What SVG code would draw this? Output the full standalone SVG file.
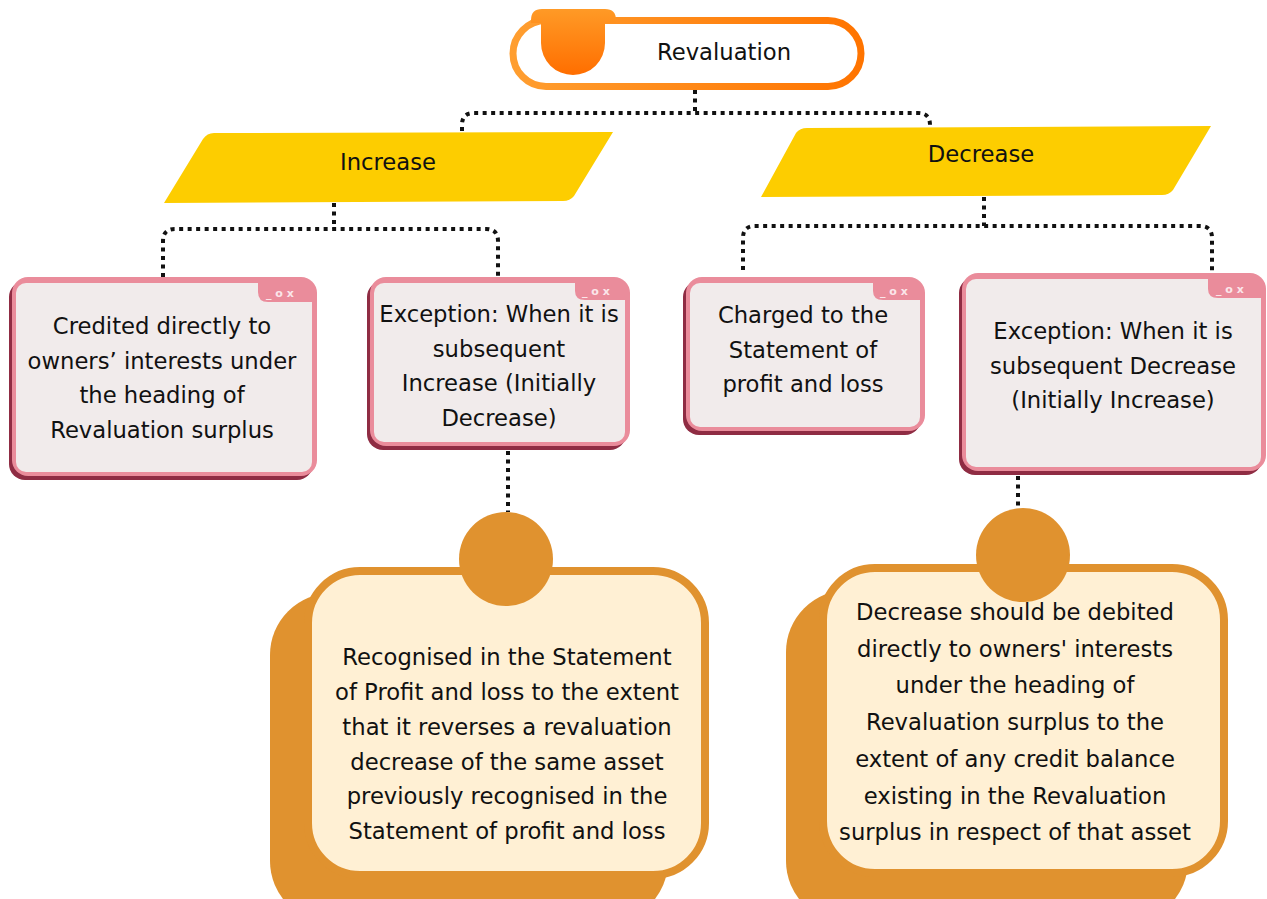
<svg xmlns="http://www.w3.org/2000/svg" width="1267" height="899" viewBox="0 0 1267 899">
<defs>
<linearGradient id="pillStroke" x1="0" y1="0" x2="1" y2="0">
<stop offset="0" stop-color="#ff9e30"/><stop offset="1" stop-color="#ff7400"/>
</linearGradient>
<linearGradient id="tabFill" x1="0" y1="0" x2="0" y2="1">
<stop offset="0" stop-color="#ff9a26"/><stop offset="1" stop-color="#ff6e00"/>
</linearGradient>
<style>
.t{font-family:"DejaVu Sans","Open Sans",sans-serif;font-size:22.7px;fill:#111;text-anchor:middle}
.big{font-size:22.7px}
.dot{fill:none;stroke:#111;stroke-width:4;stroke-dasharray:4 4.5}
.sh{fill:#8f2c43}
.pk{fill:#ea8c9b}
.in{fill:#f1ebeb}
.ic{font-family:"DejaVu Sans",sans-serif;font-size:11px;font-weight:bold;fill:#fbe6ea}
.yl{fill:#fdcd00}
.or{fill:#e0922f}
.cr{fill:#fff0d4;stroke:#e0922f;stroke-width:8}
</style>
</defs>

<g id="connectors">
<path class="dot" d="M695,90 V113"/>
<path class="dot" d="M462,131 V125 Q462,113 474,113 H918 Q930,113 930,125 V128"/>
<path class="dot" d="M334,203 V229"/>
<path class="dot" d="M163,277 V241 Q163,229 175,229 H486 Q498,229 498,241 V277"/>
<path class="dot" d="M984,197 V226"/>
<path class="dot" d="M743,270 V238 Q743,226 755,226 H1200 Q1212,226 1212,238 V273"/>
<path class="dot" d="M508,451 V512"/>
<path class="dot" d="M1018,476 V510"/>
</g>

<g id="revaluation">
<rect x="513" y="20.5" width="348" height="66" rx="33" fill="#fff" stroke="url(#pillStroke)" stroke-width="7"/>
<path d="M531,20 Q531,9 542,9 H605 Q616,9 616,20 V23 H605 V43 A32,32 0 0 1 541,43 V23 H531 Z" fill="url(#tabFill)"/>
<text class="t big" x="724" y="60">Revaluation</text>
</g>

<g id="increase">
<path class="yl" d="M164,203 L203,139 Q207,133 214,133 L613,132 L574,196 Q570,201 563,201 Z"/>
<text class="t" x="388" y="170">Increase</text>
</g>

<g id="decrease">
<path class="yl" d="M761,197 L796,133 Q800,128 807,128 L1211,126 L1173,190 Q1169,195 1162,195 Z"/>
<text class="t" x="981" y="162">Decrease</text>
</g>

<g id="credited">
<rect class="sh" x="9" y="281" width="304" height="199" rx="16"/>
<rect class="pk" x="12" y="277" width="305" height="199" rx="16"/>
<rect class="in" x="16" y="283" width="296" height="189" rx="10"/>
<path class="pk" d="M258,283 H312 V302 H268 Q258,302 258,292 Z"/>
<text class="ic" x="266" y="297">_ o x</text>
<text class="t" x="162" y="334">Credited directly to</text>
<text class="t" x="162" y="368.5">owners’ interests under</text>
<text class="t" x="162" y="403">the heading of</text>
<text class="t" x="162" y="437.5">Revaluation surplus</text>
</g>

<g id="exception-increase">
<rect class="sh" x="367" y="281" width="259" height="169" rx="16"/>
<rect class="pk" x="370" y="277" width="260" height="169" rx="16"/>
<rect class="in" x="374" y="283" width="251" height="159" rx="10"/>
<path class="pk" d="M575,283 H625 V300 H585 Q575,300 575,291 Z"/>
<text class="ic" x="582" y="295">_ o x</text>
<text class="t" x="499" y="322">Exception: When it is</text>
<text class="t" x="499" y="356.5">subsequent</text>
<text class="t" x="499" y="391">Increase (Initially</text>
<text class="t" x="499" y="425.5">Decrease)</text>
</g>

<g id="charged">
<rect class="sh" x="683" y="281" width="238" height="154" rx="16"/>
<rect class="pk" x="686" y="277" width="239" height="154" rx="16"/>
<rect class="in" x="690" y="283" width="230" height="144" rx="10"/>
<path class="pk" d="M873,283 H920 V300 H883 Q873,300 873,291 Z"/>
<text class="ic" x="880" y="295">_ o x</text>
<text class="t" x="803" y="323">Charged to the</text>
<text class="t" x="803" y="357.5">Statement of</text>
<text class="t" x="803" y="392">profit and loss</text>
</g>

<g id="exception-decrease">
<rect class="sh" x="959" y="277" width="303" height="198" rx="16"/>
<rect class="pk" x="962" y="273" width="304" height="198" rx="16"/>
<rect class="in" x="966" y="279" width="295" height="188" rx="10"/>
<path class="pk" d="M1208,279 H1261 V298 H1218 Q1208,298 1208,289 Z"/>
<text class="ic" x="1216" y="293">_ o x</text>
<text class="t" x="1113" y="339">Exception: When it is</text>
<text class="t" x="1113" y="373.5">subsequent Decrease</text>
<text class="t" x="1113" y="408">(Initially Increase)</text>
</g>

<g id="recognised">
<rect class="or" x="270" y="593" width="398" height="330" rx="62"/>
<rect class="cr" x="308" y="571" width="397" height="304" rx="52"/>
<circle class="or" cx="506" cy="559" r="47"/>
<text class="t" x="507" y="665">Recognised in the Statement</text>
<text class="t" x="507" y="700">of Profit and loss to the extent</text>
<text class="t" x="507" y="735">that it reverses a revaluation</text>
<text class="t" x="507" y="769.5">decrease of the same asset</text>
<text class="t" x="507" y="804">previously recognised in the</text>
<text class="t" x="507" y="839">Statement of profit and loss</text>
</g>

<g id="debited">
<rect class="or" x="786" y="590" width="402" height="333" rx="62"/>
<rect class="cr" x="823" y="568" width="401" height="305" rx="52"/>
<circle class="or" cx="1023" cy="555" r="47"/>
<text class="t" x="1015" y="620">Decrease should be debited</text>
<text class="t" x="1015" y="657">directly to owners' interests</text>
<text class="t" x="1015" y="693">under the heading of</text>
<text class="t" x="1015" y="730">Revaluation surplus to the</text>
<text class="t" x="1015" y="767">extent of any credit balance</text>
<text class="t" x="1015" y="804">existing in the Revaluation</text>
<text class="t" x="1015" y="840">surplus in respect of that asset</text>
</g>
</svg>
